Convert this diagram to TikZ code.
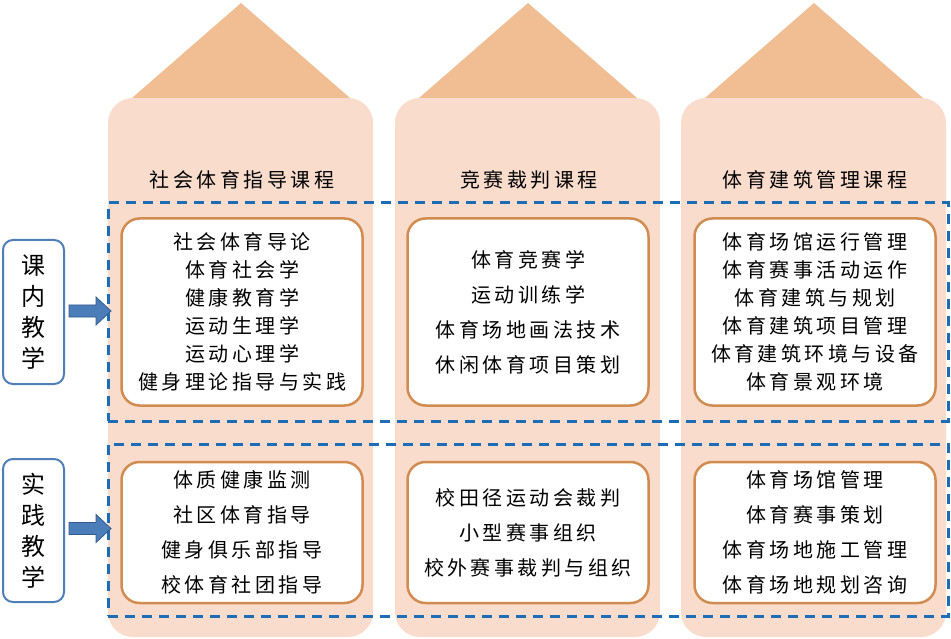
\documentclass[tikz,border=0pt]{standalone}
\usepackage{fontspec}
\newfontfamily\cjk[LetterSpace=17.5]{Noto Sans CJK SC}
\newfontfamily\cjkl{Noto Sans CJK SC}
\definecolor{colfill}{RGB}{249,220,204}
\definecolor{roof}{RGB}{240,190,146}
\definecolor{boxborder}{RGB}{209,140,82}
\definecolor{dashblue}{RGB}{28,108,182}
\definecolor{labborder}{RGB}{80,126,185}
\definecolor{arrfill}{RGB}{75,125,185}
\definecolor{arrdraw}{RGB}{50,90,140}
\begin{document}
\begin{tikzpicture}[x=1pt,y=-1pt,
  colsty/.style={fill=colfill, rounded corners=25pt},
  roofsty/.style={fill=roof},
  dashrect/.style={draw=dashblue, line width=3pt, dash pattern=on 10pt off 7pt, minimum width=840pt, inner sep=0pt},
  itembox/.style={draw=boxborder, fill=white, line width=2.5pt, rounded corners=18pt, minimum width=241pt, inner sep=0pt, align=center, font=\cjk\fontsize{20}{28}\selectfont},
  itemboxb/.style={itembox, font=\cjk\fontsize{20}{35}\selectfont},
  headsty/.style={font=\cjk\fontsize{20}{23}\selectfont, inner sep=0pt},
  labsty/.style={draw=labborder, fill=white, line width=2pt, rounded corners=10pt, minimum width=61pt, inner sep=0pt, align=center, font=\cjkl\fontsize{24}{31}\selectfont},
  arrsty/.style={fill=arrfill, draw=arrdraw, line width=0.8pt}
]
\useasboundingbox (0,0) rectangle (951,639);
% columns and roofs
\foreach \l in {108,395,681}{
  \fill[colsty] (\l,98) rectangle (\l+265,637);
  \fill[roofsty] (\l+24,98) -- (\l+133,3) -- (\l+242,98) -- cycle;
}
% headings
\node[headsty] (h1) at (242,180) {社会体育指导课程};
\node[headsty] (h2) at (529,180) {竞赛裁判课程};
\node[headsty] (h3) at (815,180) {体育建筑管理课程};
% dashed rows
\node[dashrect, minimum height=218pt] (row1) at (528,312) {};
\node[dashrect, minimum height=172pt] (row2) at (528,530) {};
% upper boxes
\node[itembox, minimum height=187pt] (b11) at (242,312) {社会体育导论\\体育社会学\\健康教育学\\运动生理学\\运动心理学\\健身理论指导与实践};
\node[itemboxb, minimum height=187pt] (b12) at (528,312) {体育竞赛学\\运动训练学\\体育场地画法技术\\休闲体育项目策划};
\node[itembox, minimum height=187pt] (b13) at (815,312) {体育场馆运行管理\\体育赛事活动运作\\体育建筑与规划\\体育建筑项目管理\\体育建筑环境与设备\\体育景观环境};
% lower boxes
\node[itemboxb, minimum height=141pt] (b21) at (242,532.5) {体质健康监测\\社区体育指导\\健身俱乐部指导\\校体育社团指导};
\node[itemboxb, minimum height=141pt] (b22) at (528,532.5) {校田径运动会裁判\\小型赛事组织\\校外赛事裁判与组织};
\node[itemboxb, minimum height=141pt] (b23) at (815,532.5) {体育场馆管理\\体育赛事策划\\体育场地施工管理\\体育场地规划咨询};
% labels
\node[labsty, minimum height=144pt] (lab1) at (33.5,312) {课\\内\\教\\学};
\node[labsty, minimum height=143pt] (lab2) at (33.5,530.5) {实\\践\\教\\学};
% block arrows from labels to rows
\path (lab1.east) ++(4,-1) coordinate (a1);
\path (lab2.east) ++(4,-2) coordinate (a2);
\foreach \c in {a1,a2}{
  \filldraw[arrsty] (\c) ++(0,-6) -- ++(27,0) -- ++(0,-8) -- ++(15,14) -- ++(-15,14) -- ++(0,-8) -- ++(-27,0) -- cycle;
}
\end{tikzpicture}
\end{document}
